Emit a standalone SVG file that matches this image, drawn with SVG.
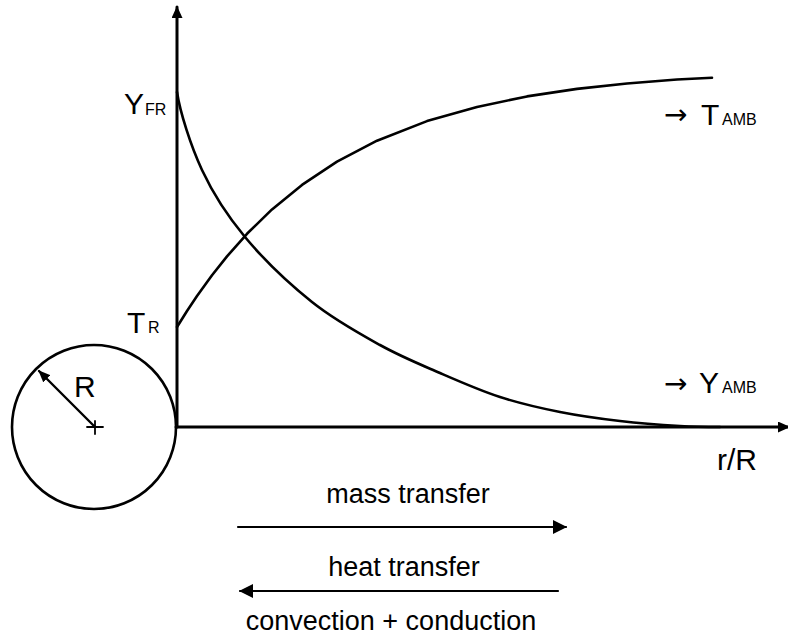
<svg xmlns="http://www.w3.org/2000/svg" width="788" height="638" viewBox="0 0 788 638">
<style>
.ln{fill:none;stroke:#000;stroke-linecap:round;stroke-linejoin:round}
.ax{stroke-width:3}
.cv{stroke-width:2.6}
.tx{font-family:"Liberation Sans",Arial,sans-serif;fill:#000}
.big{font-size:30px}
.sub{font-size:16px}
.lab{font-size:27px}
.arr{font-family:"DejaVu Sans",sans-serif;font-size:28px}
</style>
<defs>
<marker id="ah" viewBox="0 0 14 14" refX="13" refY="7" markerWidth="14" markerHeight="14" markerUnits="userSpaceOnUse" orient="auto"><path d="M0,0 L14,7 L0,14 z" fill="#000"/></marker>
<marker id="axh" viewBox="0 0 12 11" refX="11" refY="5.5" markerWidth="12" markerHeight="11" markerUnits="userSpaceOnUse" orient="auto"><path d="M0,0 L12,5.5 L0,11 z" fill="#000"/></marker>
<marker id="rh" viewBox="0 0 12 10" refX="11" refY="5" markerWidth="12" markerHeight="10" markerUnits="userSpaceOnUse" orient="auto"><path d="M0,0 L12,5 L0,10 z" fill="#000"/></marker>
</defs>
<g id="sphere">
<circle cx="94" cy="427" r="82" class="ln" stroke-width="2.6"/>
<path d="M87,427 H103 M95,421 V434" class="ln" stroke-width="1.8"/>
<line x1="95" y1="427" x2="39" y2="371" class="ln" stroke-width="2.4" marker-end="url(#rh)"/>
<text x="74" y="397" class="tx big">R</text>
</g>
<g id="axes">
<line x1="177" y1="427" x2="177" y2="7" class="ln ax" marker-end="url(#axh)"/>
<line x1="176" y1="427" x2="789" y2="427" class="ln ax" marker-end="url(#axh)"/>
<text x="717" y="470" class="tx big">r/R</text>
</g>
<g id="curves">
<path id="Ycurve" class="ln cv" d="M177,92 C180,112 190.7,145.8 202,170 C213.3,194.2 226.7,215 245,237 C263.3,259 289.5,284 312,302 C334.5,320 358.7,333.2 380,345 C401.3,356.8 420,364.3 440,373 C460,381.7 480,390.5 500,397 C520,403.5 540,408 560,412 C580,416 600,418.7 620,421 C640,423.3 663.3,425 680,426 C696.7,427 707,427 720,427"/>
<polyline id="Tcurve" class="ln cv" points="177,327 187,311 197,296 212,275.2 227,256.4 247,233.8 272,209.4 302,184.9 337,161.7 377,140.7 427,121.1 477,106.9 527,96.4 577,88.9 627,83.5 677,79.5 712,77.8"/>
</g>
<g id="labels">
<text x="124" y="114" class="tx big">Y<tspan class="sub" x="145" y="115">FR</tspan></text>
<text x="127" y="333" class="tx big">T<tspan class="sub" x="148" y="333">R</tspan></text>
<text x="664" y="124" class="tx arr">→</text>
<text x="701" y="125" class="tx big">T<tspan class="sub" x="722" y="125">AMB</tspan></text>
<text x="664" y="393" class="tx arr">→</text>
<text x="699" y="393" class="tx big">Y<tspan class="sub" x="722" y="393">AMB</tspan></text>
</g>
<g id="transfer">
<text x="408" y="503" text-anchor="middle" class="tx lab">mass transfer</text>
<line x1="238" y1="527" x2="566" y2="527" class="ln" stroke-width="2.2" marker-end="url(#ah)"/>
<text x="404" y="576" text-anchor="middle" class="tx lab">heat transfer</text>
<line x1="558" y1="591" x2="240" y2="591" class="ln" stroke-width="2.2" marker-end="url(#ah)"/>
<text x="391" y="630" text-anchor="middle" class="tx lab">convection + conduction</text>
</g>
</svg>
